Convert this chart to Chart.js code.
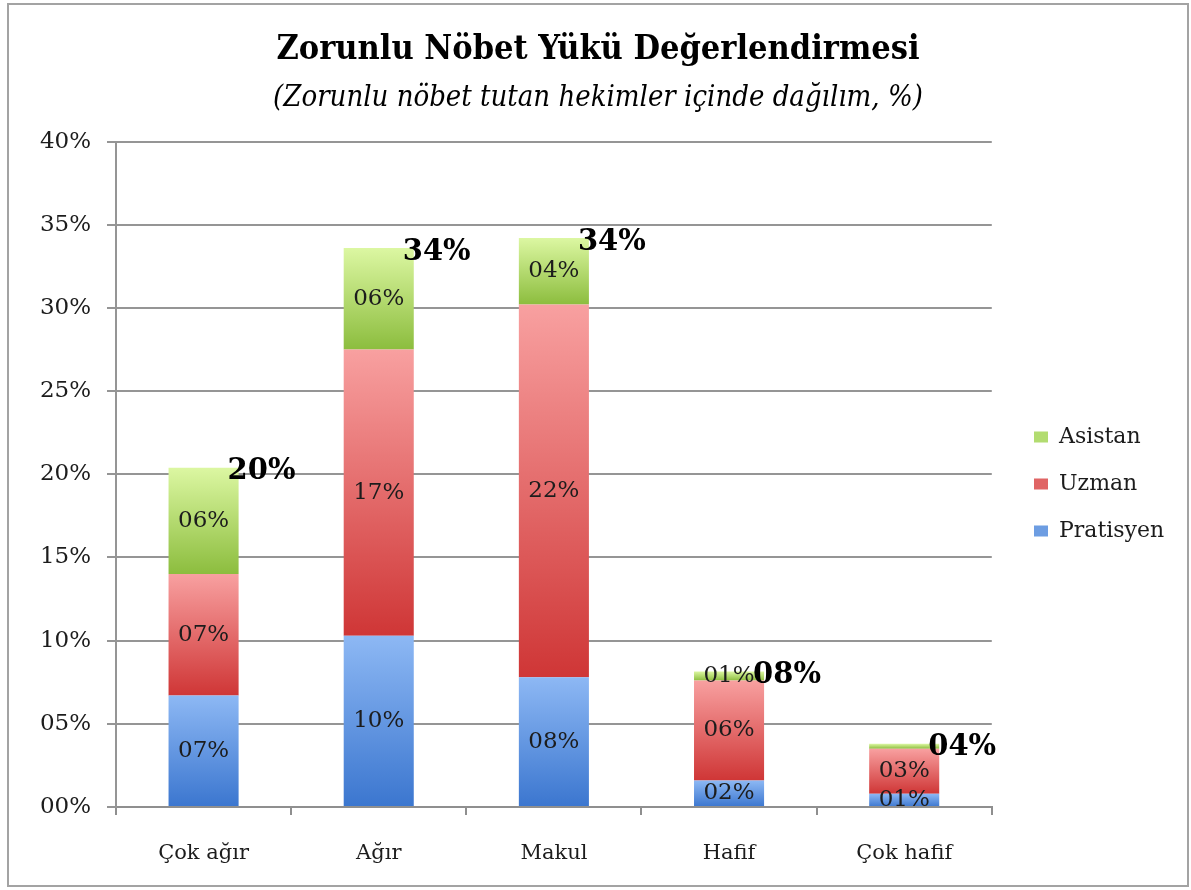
<!DOCTYPE html>
<html>
<head>
<meta charset="utf-8">
<script src="https://cdn.jsdelivr.net/npm/chart.js@4/dist/chart.umd.min.js"></script>
<style>
  body { margin: 0; background: #fff; }
  #frame {
    position: absolute; left: 7px; top: 3px;
    width: 1178px; height: 880px;
    border: 2px solid #a3a3a3; background: #fff;
  }
</style>
</head>
<body>
<div id="frame"><canvas id="chart"></canvas></div>
<script>
// Data (percent of doctors)
const categories = ['Çok ağır', 'Ağır', 'Makul', 'Hafif', 'Çok hafif'];
const pratisyen = [6.7, 10.3, 7.8, 1.6, 0.8];
const uzman = [7.3, 17.2, 22.4, 6.0, 2.7];
const asistan = [6.4, 6.1, 4.0, 0.55, 0.3];
const seriesNames = ['Pratisyen', 'Uzman', 'Asistan'];

const seriesList = [pratisyen, uzman, asistan];
const serif = '"DejaVu Serif Condensed", "DejaVu Serif", serif';

// two-digit percent labels like "07%"
function pct(v) {
  return String(Math.round(v)).padStart(2, '0') + '%';
}

// vertical gradient for one stacked segment
function segmentGradient(dsIndex, top, bottom) {
  return (ctx) => {
    const chart = ctx.chart;
    if (!chart.chartArea || ctx.type !== 'data') return bottom;
    const y = chart.scales.y;
    let base = 0;
    for (let k = 0; k < dsIndex; k++) base += seriesList[k][ctx.dataIndex];
    const v = seriesList[dsIndex][ctx.dataIndex];
    const g = chart.ctx.createLinearGradient(0, y.getPixelForValue(base + v), 0, y.getPixelForValue(base));
    g.addColorStop(0, top);
    g.addColorStop(1, bottom);
    return g;
  };
}

const legendColors = ['#6d9de2', '#e06464', '#b2dc70'];

const segmentLabels = {
  id: 'segmentLabels',
  afterDatasetsDraw(chart) {
    const ctx = chart.ctx;
    ctx.save();
    ctx.fillStyle = '#1c1c1c';
    ctx.textAlign = 'center';
    ctx.textBaseline = 'middle';
    ctx.font = '23px "DejaVu Serif"';
    chart.data.datasets.forEach((ds, i) => {
      chart.getDatasetMeta(i).data.forEach((bar, j) => {
        if (Math.round(ds.data[j]) < 1) return;
        ctx.fillText(pct(ds.data[j]), bar.x, (bar.y + bar.base) / 2);
      });
    });
    // totals, bold, at the top right of each bar
    const last = chart.data.datasets.length - 1;
    ctx.font = 'bold 29px "DejaVu Serif"';
    ctx.fillStyle = '#000';
    ctx.textAlign = 'left';
    chart.getDatasetMeta(last).data.forEach((bar, j) => {
      const total = seriesList.reduce((s, arr) => s + arr[j], 0);
      ctx.fillText(pct(total), bar.x + bar.width / 2 - 11, bar.y + 4);
    });
    ctx.restore();
  }
};

// titles centred on the whole canvas; legend block moved right and lower
const layoutFix = {
  id: 'layoutFix',
  afterLayout(chart) {
    chart.boxes.forEach(b => {
      if (b.position === 'top' && b.fullSize) {
        b.left = 0;
        b.right = chart.width;
        b.width = chart.width;
      }
    });
    const lg = chart.legend;
    const w = lg.right - lg.left;
    const h = lg.bottom - lg.top;
    lg.left = 1000;
    lg.right = lg.left + w;
    lg.top = 479 - h / 2;
    lg.bottom = lg.top + h;
  }
};

new Chart(document.getElementById('chart'), {
  type: 'bar',
  data: {
    labels: categories,
    datasets: [
      { label: seriesNames[0], data: pratisyen, backgroundColor: segmentGradient(0, '#8db8f4', '#3b76cf') },
      { label: seriesNames[1], data: uzman, backgroundColor: segmentGradient(1, '#f8a0a0', '#cf3636') },
      { label: seriesNames[2], data: asistan, backgroundColor: segmentGradient(2, '#dcf7a2', '#8cbd3e') }
    ]
  },
  options: {
    responsive: true,
    maintainAspectRatio: false,
    animation: false,
    barPercentage: 0.5,
    categoryPercentage: 0.8,
    layout: { padding: { left: 0, right: 30, top: 0, bottom: 0 } },
    plugins: {
      title: {
        display: true,
        text: 'Zorunlu Nöbet Yükü Değerlendirmesi',
        color: '#000',
        font: { family: serif, size: 34, weight: 'bold' },
        padding: { top: 25, bottom: 0 }
      },
      subtitle: {
        display: true,
        text: '(Zorunlu nöbet tutan hekimler içinde dağılım, %)',
        color: '#000',
        font: { family: serif, size: 29, style: 'italic' },
        padding: { top: 10, bottom: 26 }
      },
      legend: {
        position: 'right',
        reverse: true,
        labels: {
          color: '#1c1c1c',
          font: { family: '"DejaVu Serif"', size: 22 },
          boxWidth: 14,
          boxHeight: 11,
          padding: 25,
          generateLabels: (chart) => chart.data.datasets.map((ds, i) => ({
            text: ds.label,
            fillStyle: legendColors[i],
            strokeStyle: legendColors[i],
            lineWidth: 0,
            datasetIndex: i,
            fontColor: '#1c1c1c'
          }))
        }
      },
      tooltip: { enabled: false }
    },
    scales: {
      x: {
        stacked: true,
        afterFit: (scale) => { scale.height = 78; },
        grid: { drawOnChartArea: false, color: '#8f8f8f', lineWidth: 2, tickLength: 8, offset: true },
        border: { color: '#8f8f8f', width: 2 },
        ticks: { color: '#1c1c1c', padding: 26, font: { family: '"DejaVu Serif"', size: 21 } }
      },
      y: {
        stacked: true,
        min: 0,
        max: 40,
        afterFit: (scale) => { scale.width = 107; },
        grid: { color: '#959595', lineWidth: 2, tickLength: 9 },
        border: { color: '#959595', width: 2 },
        ticks: {
          stepSize: 5,
          color: '#1c1c1c',
          padding: 16,
          font: { family: '"DejaVu Serif"', size: 23 },
          callback: (v) => pct(v)
        }
      }
    }
  },
  plugins: [segmentLabels, layoutFix]
});
</script>
</body>
</html>
